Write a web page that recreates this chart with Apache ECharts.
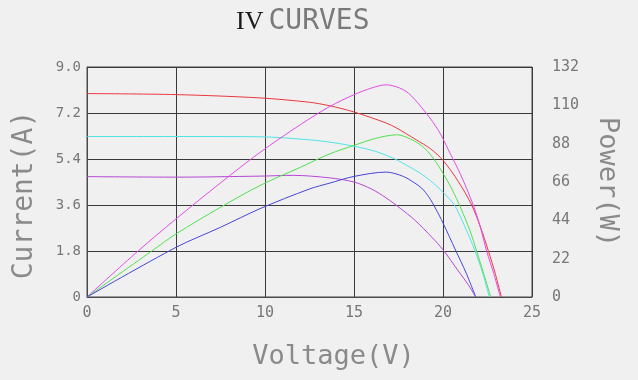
<!DOCTYPE html>
<html>
<head>
<meta charset="utf-8">
<script src="https://cdn.jsdelivr.net/npm/echarts@6/dist/echarts.min.js"></script>
<style>
html,body{margin:0;padding:0;background:#f0f0f0;}
#c{width:638px;height:380px;}
</style>
</head>
<body>
<div id="c"></div>
<script>
// IV curves (current, A)
const redV = [0, 5, 9.72, 12.5, 13.65, 15, 16.8, 17.4, 18.5, 19.3, 20, 20.86, 21.61, 22.1, 22.55, 22.95, 23.28];
const redI = [7.96, 7.92, 7.79, 7.62, 7.48, 7.24, 6.81, 6.61, 6.15, 5.8, 5.35, 4.52, 3.6, 2.75, 1.8, 0.88, 0];
const cyanV = [0, 5, 9.72, 12.5, 13.65, 15, 16.2, 17.3, 18.1, 18.71, 19.3, 20, 20.64, 21.2, 21.8, 22.2, 22.6];
const cyanI = [6.28, 6.28, 6.27, 6.15, 6.06, 5.9, 5.7, 5.4, 5.1, 4.85, 4.55, 4.1, 3.6, 2.8, 1.8, 1.0, 0];
const violetV = [0, 5, 9.72, 11.6, 13.65, 15, 16, 16.8, 17.6, 18.4, 19.4, 20, 20.9, 21.4, 21.84];
const violetI = [4.71, 4.69, 4.73, 4.76, 4.66, 4.5, 4.22, 3.88, 3.47, 3.02, 2.32, 1.85, 0.98, 0.5, 0];
// Power curves (W)
const magentaV = [0, 2.87, 5, 7.5, 9.72, 12, 13.65, 15, 16, 16.82, 17.77, 18.34, 19.27, 19.83, 20.3, 21.0, 21.7, 22.1, 22.45, 22.85, 23.22];
const magentaP = [0, 26.4, 44.8, 65.5, 83, 99, 109.4, 116.1, 120, 121.8, 119, 114.2, 102.7, 94.1, 84.5, 70, 52.8, 40, 26.4, 13.5, 0];
const greenV = [0, 3.64, 5, 7.5, 9.72, 12, 13.65, 15, 16.2, 17.4, 18.4, 19.0, 19.5, 20.0, 20.5, 21.0, 21.5, 21.89, 22.3, 22.68];
const greenP = [0, 26.4, 36.2, 51.5, 64, 74.5, 82.2, 87, 91, 93.1, 89.5, 85, 79, 71, 62, 51, 38.5, 26.4, 13, 0];
const blueV = [0, 5, 7.5, 9.72, 12.5, 13.65, 15, 16.82, 17.77, 18.4, 18.8, 19.2, 19.6, 20.0, 20.7, 21.3, 21.84];
const blueP = [0, 28.5, 40, 50.7, 62, 65.4, 69.2, 71.7, 69.2, 65.5, 62.5, 57.5, 50.5, 42.5, 27, 13.8, 0];

const titleMain = 'IV';
const titleRest = 'CURVES';
const xName = 'Voltage(V)';
const yLeftName = 'Current(A)';
const yRightName = 'Power(W)';

const pairs = (xs, ys) => xs.map((x, i) => [x, ys[i]]);
const mono = 'DejaVu Sans Mono';

function line(name, xs, ys, color, axis) {
  return {
    name: name, type: 'line', yAxisIndex: axis, data: pairs(xs, ys),
    showSymbol: false, smooth: 0.3,
    lineStyle: {color: color, width: 1}, z: 3, animation: false
  };
}

const chart = echarts.init(document.getElementById('c'), null, {renderer: 'canvas'});
chart.setOption({
  backgroundColor: '#f0f0f0',
  animation: false,
  title: {
    text: '{a|' + titleMain + '} {b|' + titleRest + '}',
    left: 231, top: 3,
    textStyle: {
      rich: {
        a: {fontFamily: 'Liberation Serif', fontSize: 26, color: '#1a1a1a', fontWeight: 'normal'},
        b: {fontFamily: mono, fontSize: 28, color: '#7a7a7a', fontWeight: 'normal'}
      }
    }
  },
  grid: {left: 87, right: 106, top: 67, bottom: 83, show: true, borderColor: '#4a4a4a', borderWidth: 1, backgroundColor: 'transparent'},
  xAxis: {
    type: 'value', min: 0, max: 25, interval: 5,
    name: xName, nameLocation: 'middle', nameGap: 46,
    nameTextStyle: {fontFamily: mono, fontSize: 27, color: '#8a8a8a', padding: [0, 0, 0, 48]},
    axisLine: {show: true, lineStyle: {color: '#4a4a4a'}},
    axisTick: {show: false},
    axisLabel: {fontFamily: mono, fontSize: 15, color: '#777', margin: 9},
    splitLine: {show: true, lineStyle: {color: '#3a3a3a', width: 1}}
  },
  yAxis: [{
    type: 'value', min: 0, max: 9, interval: 1.8,
    name: yLeftName, nameLocation: 'middle', nameGap: 48,
    nameTextStyle: {fontFamily: mono, fontSize: 28, color: '#8a8a8a', padding: [0, 26, 0, 0]},
    axisLine: {show: true, lineStyle: {color: '#4a4a4a'}},
    axisTick: {show: false},
    axisLabel: {fontFamily: mono, fontSize: 14, color: '#777', margin: 6,
      formatter: v => v === 0 ? '0' : v.toFixed(1)},
    splitLine: {show: true, lineStyle: {color: '#3a3a3a', width: 1}}
  }, {
    type: 'value', min: 0, max: 132, interval: 22,
    name: yRightName, nameLocation: 'middle', nameGap: 62, nameRotate: -90,
    nameTextStyle: {fontFamily: mono, fontSize: 27, color: '#8a8a8a'},
    axisLine: {show: false},
    axisTick: {show: false},
    axisLabel: {fontFamily: mono, fontSize: 15, color: '#777', margin: 20},
    splitLine: {show: false}
  }],
  series: [
    line('I1', redV, redI, '#e8393f', 0),
    line('I2', cyanV, cyanI, '#4fe3e6', 0),
    line('I3', violetV, violetI, '#b447d4', 0),
    line('P1', magentaV, magentaP, '#e24ce6', 1),
    line('P2', greenV, greenP, '#4fe04f', 1),
    line('P3', blueV, blueP, '#4646d8', 1)
  ]
});
</script>
</body>
</html>
